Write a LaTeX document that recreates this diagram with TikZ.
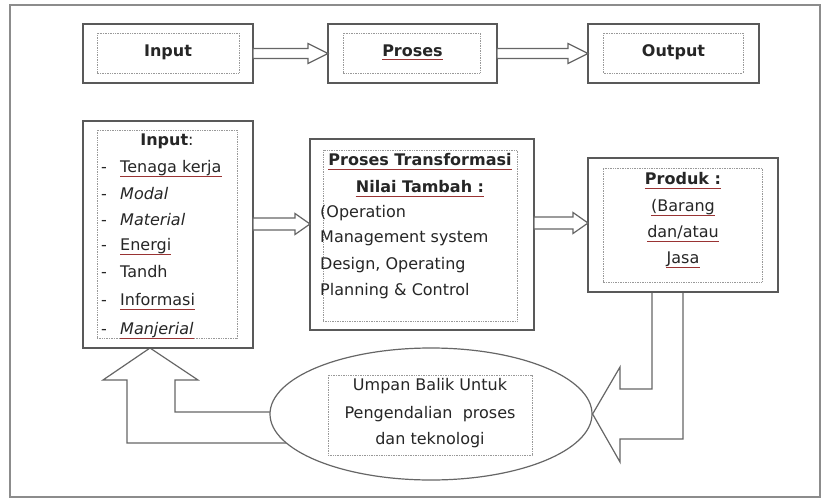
\documentclass[tikz,border=0pt]{standalone}
\usepackage{fontspec}
\setmainfont{DejaVu Sans}
\usetikzlibrary{calc,shapes.geometric}
\pgfdeclarelayer{bg}
\pgfsetlayers{bg,main}
\newcommand\blockarr[5]{%
  \draw[arrowline] ($#1+(0,#3)$) -- ($#2+(-#5,#3)$) -- ($#2+(-#5,#4)$) -- #2
    -- ($#2+(-#5,-#4)$) -- ($#2+(-#5,-#3)$) -- ($#1+(0,-#3)$) -- cycle;}
\newcommand\splline[1]{%
  \draw[splstyle] ($(#1.base west)+(0,-3.5)$) -- ($(#1.base east)+(0,-3.5)$);}
\tikzset{
  outerbox/.style={rectangle, draw=black!65, line width=1.5pt, fill=white, inner sep=0pt, outer sep=0pt},
  innerbox/.style={draw=black!40, densely dotted, line width=0.7pt},
  arrowline/.style={draw=black!60, line width=1.2pt, fill=white, line join=miter},
  splstyle/.style={draw=red!50!black!80, line width=0.7pt},
  txt/.style={inner sep=0pt, font=\fontsize{16}{19}\selectfont, text=black!85},
  txtb/.style={inner sep=0pt, font=\fontsize{16}{19}\selectfont\bfseries, text=black!85},
}
\begin{document}
\begin{tikzpicture}[x=1pt,y=1pt]
\useasboundingbox (0,0) rectangle (821,499);
\draw[black!45, line width=1.2pt] (10,2) rectangle (820,494);

% top row
\node[outerbox, minimum width=170pt, minimum height=59pt] (in1) at (168,445.5) {};
\node[outerbox, minimum width=169pt, minimum height=59pt] (pr1) at (412.5,445.5) {};
\node[outerbox, minimum width=171pt, minimum height=59pt] (out1) at (673.5,445.5) {};

% bottom row boxes
\node[outerbox, minimum width=170pt, minimum height=227pt] (inp) at (168,264.5) {};
\node[outerbox, minimum width=224pt, minimum height=191pt] (proc) at (422,264.5) {};
\node[outerbox, minimum width=190pt, minimum height=134pt] (prod) at (683,274) {};

% feedback ellipse
\node[ellipse, draw=black!60, line width=1.2pt, fill=white, minimum width=322pt, minimum height=132pt, inner sep=0pt] (fb) at (431,85) {};
\node[rectangle, innerbox, minimum width=204pt, minimum height=80pt, inner sep=0pt] (fbin) at (430,84) {};

% inner dotted frames
\foreach \n/\l/\b/\r/\t in {in1/14/10/14/9, pr1/15/10/17/9, out1/15/10/16/9, inp/14/10/16/9, proc/13/9/17/11, prod/15/10/16/10}
  {\draw[innerbox] ($(\n.south west)+(\l,\b)$) rectangle ($(\n.north east)+(-\r,-\t)$);}

% top labels
\node[txtb, anchor=mid] (in1t) at (in1) {Input};
\node[txtb, anchor=mid] (pr1t) at (pr1) {Proses};
\node[txtb, anchor=mid] (out1t) at (out1) {Output};
\splline{pr1t}

% straight block arrows
\blockarr{(in1.east)}{(pr1.west)}{5}{10}{20}
\blockarr{(pr1.east)}{(out1.west)}{5}{10}{20}
\coordinate (a1s) at ($(inp.east)+(0,10.5)$);
\coordinate (a1t) at ($(proc.west)+(0,10.5)$);
\coordinate (a2s) at ($(proc.east)+(0,11.5)$);
\coordinate (a2t) at ($(prod.west)+(0,2)$);
\blockarr{(a1s)}{(a1t)}{6}{10.5}{15}
\blockarr{(a2s)}{(a2t)}{6}{10.5}{15}

% bent block arrows (behind the ellipse)
\begin{pgfonlayer}{bg}
\draw[arrowline] ($(prod.south)+(-31,0)$) -- (652,110) -- (620,110) -- (620,132) -- (fb.east)
  -- (620,37) -- (620,60) -- (683,60) -- (prod.south) -- cycle;
\draw[arrowline] (295,87) -- (175,87) -- (175,119) -- (198,119) -- ($(inp.south)+(-18,0)$)
  -- (103,119) -- (127,119) -- (127,56) -- (295,56) -- cycle;
\end{pgfonlayer}

% input list
\node[txtb, anchor=mid] (inh) at (167,356) {Input\mdseries:};
\foreach \i/\yy in {1/329, 2/302, 3/276, 4/251, 5/224, 6/196, 7/167}
  {\node[txt, anchor=mid west] (d\i) at (101,\yy) {-};}
\node[txt, anchor=mid west] (l1) at (120,329) {Tenaga kerja};
\node[txt, anchor=mid west] (l2) at (120,302) {\itshape Modal};
\node[txt, anchor=mid west] (l3) at (120,276) {\itshape Material};
\node[txt, anchor=mid west] (l4) at (120,251) {Energi};
\node[txt, anchor=mid west] (l5) at (120,224) {Tandh};
\node[txt, anchor=mid west] (l6) at (120,196) {Informasi};
\node[txt, anchor=mid west] (l7) at (120,167) {\itshape Manjerial};
\foreach \n in {l1,l4,l6,l7} {\splline{\n}}

% process text
\node[txtb, anchor=mid] (pt1) at (420,336) {Proses Transformasi};
\node[txtb, anchor=mid] (pt2) at (420,309) {Nilai Tambah :};
\node[txt, anchor=mid west] (pt3) at (320,284) {(Operation};
\node[txt, anchor=mid west] (pt4) at (320,259) {Management system};
\node[txt, anchor=mid west] (pt5) at (320,232) {Design, Operating};
\node[txt, anchor=mid west] (pt6) at (320,206) {Planning \& Control};
\foreach \n in {pt1,pt2} {\splline{\n}}

% product text
\node[txtb, anchor=mid] (pd1) at (683,317) {Produk :};
\node[txt, anchor=mid] (pd2) at (683,290) {(Barang};
\node[txt, anchor=mid] (pd3) at (683,264) {dan/atau};
\node[txt, anchor=mid] (pd4) at (683,238) {Jasa};
\foreach \n in {pd1,pd2,pd3,pd4} {\splline{\n}}

% feedback text
\node[txt, anchor=mid] (fb1) at (430,111) {Umpan Balik Untuk};
\node[txt, anchor=mid] (fb2) at (430,83) {Pengendalian\ \ proses};
\node[txt, anchor=mid] (fb3) at (430,57) {dan teknologi};
\end{tikzpicture}
\end{document}
